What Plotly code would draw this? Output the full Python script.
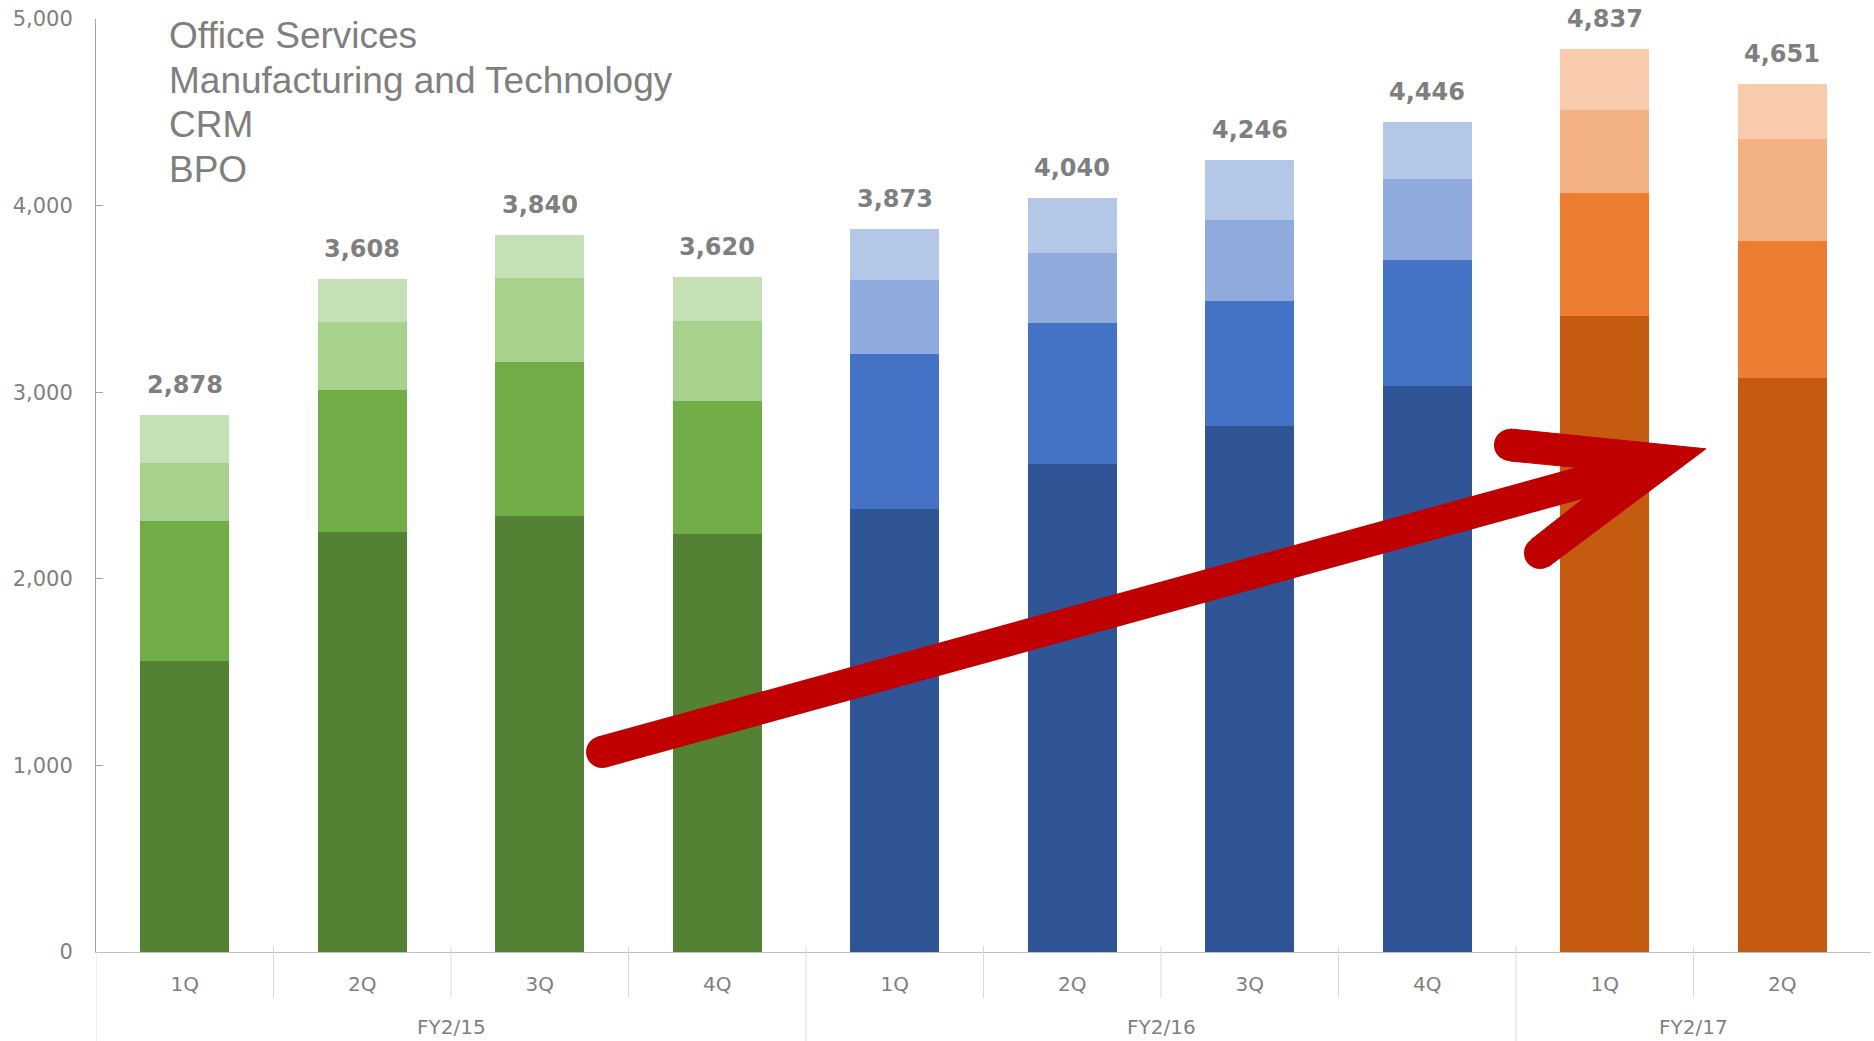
import plotly.graph_objects as go

# ---------------- data ----------------
fiscal_years = ["FY2/15"] * 4 + ["FY2/16"] * 4 + ["FY2/17"] * 2
quarters = ["1Q", "2Q", "3Q", "4Q", "1Q", "2Q", "3Q", "4Q", "1Q", "2Q"]
bpo = [1559, 2251, 2337, 2240, 2374, 2615, 2819, 3035, 3408, 3078]
crm = [751, 761, 826, 713, 831, 756, 670, 672, 659, 734]
mfg_tech = [311, 362, 448, 427, 396, 375, 434, 435, 445, 545]
office = [257, 234, 229, 240, 272, 294, 323, 304, 325, 294]
totals = [2878, 3608, 3840, 3620, 3873, 4040, 4246, 4446, 4837, 4651]
segment_names = ["Office Services", "Manufacturing and Technology", "CRM", "BPO"]

# ---------------- styles ----------------
palette = {
    "FY2/15": ["#548235", "#70AD47", "#A9D18E", "#C5E0B4"],
    "FY2/16": ["#2F5597", "#4472C4", "#8FAADC", "#B4C7E7"],
    "FY2/17": ["#C55A11", "#ED7D31", "#F4B183", "#F8CBAD"],
}
GREY = "#7F7F7F"
AXIS_FONT = "DejaVu Sans, Verdana, sans-serif"
RED = "#C00000"

x_idx = list(range(len(quarters)))
stack = [("BPO", bpo), ("CRM", crm), ("Manufacturing and Technology", mfg_tech), ("Office Services", office)]

fig = go.Figure()
for shade, (name, vals) in enumerate(stack):
    fig.add_trace(go.Bar(
        x=x_idx, y=vals, name=name, width=0.5,
        marker=dict(color=[palette[fy][shade] for fy in fiscal_years], line=dict(width=0)),
        showlegend=False,
    ))

annotations = []
# totals above bars
for i, t in enumerate(totals):
    annotations.append(dict(
        x=i, y=t, xref="x", yref="y", text=f"{t:,}", showarrow=False,
        yanchor="middle", yshift=30,
        font=dict(family="DejaVu Sans, Verdana, sans-serif", size=24, color=GREY, weight="bold"),
    ))

# fiscal year group labels
groups = []
for i, fy in enumerate(fiscal_years):
    if not groups or groups[-1][0] != fy:
        groups.append([fy, i, i])
    else:
        groups[-1][2] = i
for fy, a, b in groups:
    annotations.append(dict(
        x=(a + b) / 2, y=-0.0804, xref="x", yref="paper", text=fy, showarrow=False,
        yanchor="middle", font=dict(family=AXIS_FONT, size=20, color=GREY),
    ))

# series names (legend-like text, top left)
legend_y = [0.9818, 0.9345, 0.8873, 0.8392]
for name, yy in zip(segment_names, legend_y):
    annotations.append(dict(
        x=0.0398, y=yy, xref="paper", yref="paper", text=name, showarrow=False,
        xanchor="left", yanchor="middle",
        font=dict(family="Liberation Sans, Arial, sans-serif", size=37, color=GREY),
    ))

shapes = []
# category dividers below the axis
group_bounds = [b + 0.5 for _, a, b in groups[:-1]]
for k in range(len(quarters) - 1):
    xb = k + 0.5
    long_line = xb in group_bounds
    shapes.append(dict(
        type="line", xref="x", yref="paper", x0=xb, x1=xb,
        y0=0.0064, y1=-0.11 if long_line else -0.0493,
        line=dict(color="#D9D9D9", width=1),
    ))
shapes.append(dict(type="line", xref="x", yref="paper", x0=-0.5, x1=-0.5, y0=0, y1=-0.11,
                   line=dict(color="#D9D9D9", width=1)))

# red trend arrow (paper coordinates)
arrow_start = (0.2851, 0.2144)
arrow_shaft_end = (0.8699, 0.5204)
arrow_head = [(0.7968, 0.5606), (0.9070, 0.5393), (0.8183, 0.4131), (0.8087, 0.4422),
              (0.8377, 0.4855), (0.8344, 0.5193), (0.7964, 0.5263)]
arrow_caps = [arrow_start, (0.7966, 0.5434), (0.8135, 0.4277)]
shapes.append(dict(type="line", xref="paper", yref="paper",
                   x0=arrow_start[0], y0=arrow_start[1], x1=arrow_shaft_end[0], y1=arrow_shaft_end[1],
                   line=dict(color=RED, width=32)))
path = "M " + " L ".join(f"{px},{py}" for px, py in arrow_head) + " Z"
shapes.append(dict(type="path", xref="paper", yref="paper", path=path,
                   fillcolor=RED, line=dict(color=RED, width=1)))
for cx, cy in arrow_caps:
    shapes.append(dict(type="circle", xref="paper", yref="paper",
                       xsizemode="pixel", ysizemode="pixel", xanchor=cx, yanchor=cy,
                       x0=-16, x1=16, y0=-16, y1=16,
                       fillcolor=RED, line=dict(color=RED, width=0)))

fig.update_layout(
    width=1874, height=1041,
    margin=dict(l=96, r=3, t=19, b=89),
    barmode="stack",
    plot_bgcolor="white", paper_bgcolor="white",
    showlegend=False,
    annotations=annotations,
    shapes=shapes,
    xaxis=dict(
        range=[-0.5, len(quarters) - 0.5], tickvals=x_idx, ticktext=quarters,
        showline=True, linecolor="#BFBFBF", linewidth=1, ticks="", showgrid=False, zeroline=False,
        tickfont=dict(family=AXIS_FONT, size=20, color=GREY), ticklabelstandoff=14,
    ),
    yaxis=dict(
        range=[0, 5000], dtick=1000, tickformat=",",
        showline=True, linecolor="#A6A6A6", linewidth=1,
        ticks="inside", ticklen=7, tickcolor="#A6A6A6",
        showgrid=False, zeroline=False,
        tickfont=dict(family=AXIS_FONT, size=21, color=GREY), ticklabelstandoff=18,
    ),
)

fig.write_html("out.html", config={"displayModeBar": False},
               post_script="document.body.style.margin='0px';")
